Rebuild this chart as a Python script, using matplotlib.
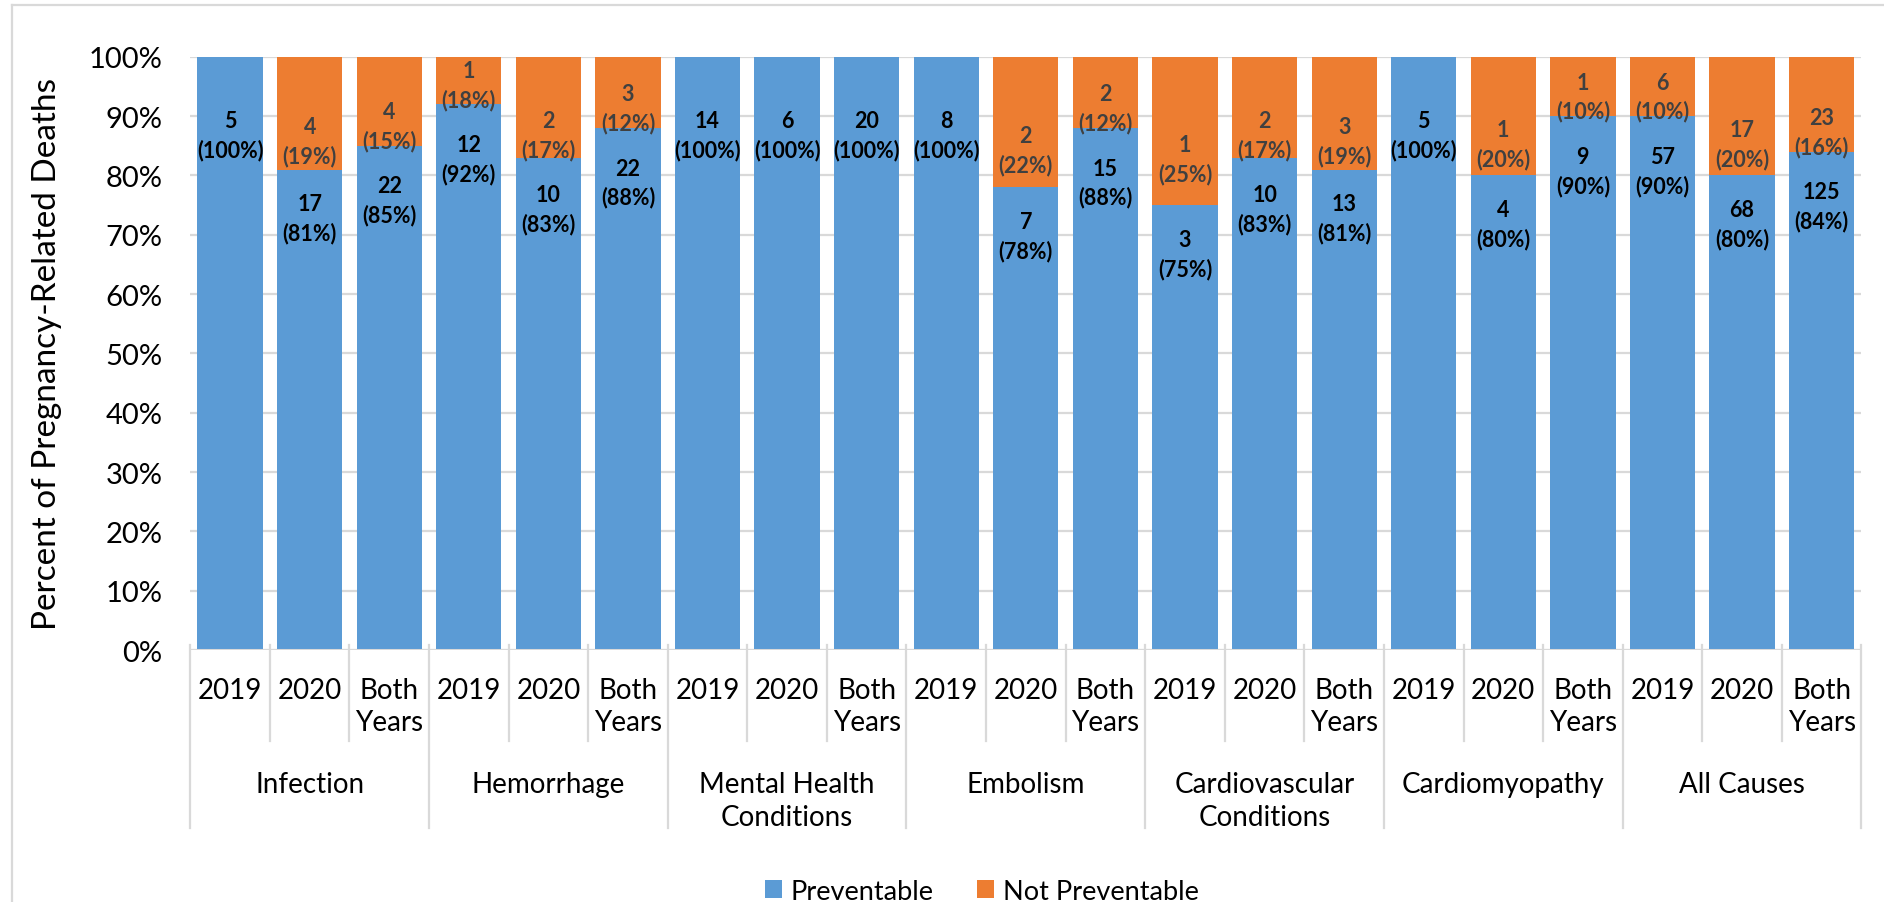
import matplotlib
matplotlib.use("Agg")
import matplotlib.pyplot as plt
import numpy as np

plt.rcParams['font.family'] = ['Lato', 'DejaVu Sans']

# categories
groups = ["Infection", "Hemorrhage", "Mental Health\nConditions", "Embolism",
          "Cardiovascular\nConditions", "Cardiomyopathy", "All Causes"]
periods = ["2019", "2020", "Both\nYears"]

# counts and percents, in order group x period
prev_n = [5, 17, 22, 12, 10, 22, 14, 6, 20, 8, 7, 15, 3, 10, 13, 5, 4, 9, 57, 68, 125]
prev_pct = [100, 81, 85, 92, 83, 88, 100, 100, 100, 100, 78, 88, 75, 83, 81, 100, 80, 90, 90, 80, 84]
notprev_n = [0, 4, 4, 1, 2, 3, 0, 0, 0, 0, 2, 2, 1, 2, 3, 0, 1, 1, 6, 17, 23]
notprev_pct = [0, 19, 15, 8, 17, 12, 0, 0, 0, 0, 22, 12, 25, 17, 19, 0, 20, 10, 10, 20, 16]
# the printed label for hemorrhage 2019 reads 18%
notprev_label = [0, 19, 15, 18, 17, 12, 0, 0, 0, 0, 22, 12, 25, 17, 19, 0, 20, 10, 10, 20, 16]

blue = "#5B9BD5"
orange = "#ED7D31"
grid_c = "#D9D9D9"

fig = plt.figure(figsize=(18.84, 9.03), dpi=100)
ax = fig.add_axes([0.101, 0.279, 0.887, 0.657])

x = np.arange(len(prev_n))
ax.bar(x, prev_pct, width=0.82, color=blue, label="Preventable", zorder=2)
ax.bar(x, notprev_pct, bottom=prev_pct, width=0.82, color=orange,
       label="Not Preventable", zorder=2)

ax.set_xlim(-0.5, len(x) - 0.5)
ax.set_ylim(0, 100)
ax.set_yticks(np.arange(0, 101, 10))
ax.set_yticklabels([f"{v}%" for v in range(0, 101, 10)], fontsize=21)
ax.tick_params(axis='y', length=0, pad=20)
ax.set_xticks([])
for s in ax.spines.values():
    s.set_visible(False)
ax.grid(axis='y', color=grid_c, linewidth=1.6, zorder=0)
ax.axhline(0, color=grid_c, linewidth=2.2, zorder=3)

ax.set_ylabel("Percent of Pregnancy-Related Deaths", fontsize=24)
ax.yaxis.set_label_coords(-0.0765, 0.5)

# value labels
for i in x:
    if notprev_n[i] > 0:
        otop = min(max(prev_pct[i] + notprev_pct[i] / 2 - 0.5, prev_pct[i] + 7.5), 99.5)
        ax.text(i, otop, f"{notprev_n[i]}\n({notprev_label[i]}%)", ha='center', va='top',
                fontsize=15.5, fontweight='bold', color="#404040", linespacing=1.42, zorder=4)
        btop = min(prev_pct[i] - 4, otop - 12.5)
    else:
        btop = prev_pct[i] - 9
    ax.text(i, btop, f"{prev_n[i]}\n({prev_pct[i]}%)", ha='center', va='top',
            fontsize=15.5, fontweight='bold', color="black", linespacing=1.42, zorder=4)

# multi-level category axis
trans = ax.get_xaxis_transform()
for i in x:
    ax.text(i, -0.045, periods[i % 3], transform=trans, ha='center', va='top',
            fontsize=20, linespacing=1.3)
for g, name in enumerate(groups):
    ax.text(g * 3 + 1, -0.2035, name, transform=trans, ha='center', va='top',
            fontsize=20, linespacing=1.35)
for b in np.arange(-0.5, len(x), 1.0):
    if (b + 0.5) % 3 == 0:
        ax.plot([b, b], [0.008, -0.30], transform=trans, color=grid_c, lw=1.6, clip_on=False)
    else:
        ax.plot([b, b], [0.008, -0.153], transform=trans, color=grid_c, lw=1.6, clip_on=False)

# chart area border
fig.add_artist(plt.Line2D([0.0065, 0.0065], [0, 0.9935], color=grid_c, lw=1.6))
fig.add_artist(plt.Line2D([0.0065, 1], [0.9935, 0.9935], color=grid_c, lw=1.6))

fig.legend(loc='center', bbox_to_anchor=(0.521, 0.012), ncol=2, frameon=False,
           fontsize=19.5, handlelength=0.65, handleheight=0.65, columnspacing=1.6,
           handletextpad=0.3)

fig.savefig("out.png", dpi=100)
